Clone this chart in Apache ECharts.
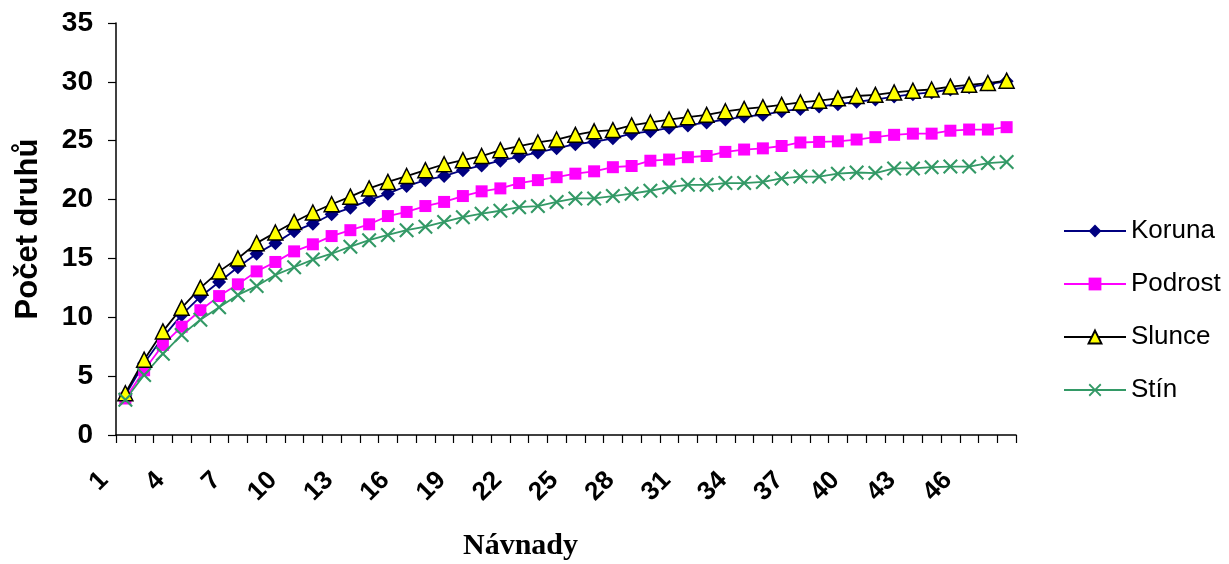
<!DOCTYPE html>
<html>
<head>
<meta charset="utf-8">
<script src="https://cdn.jsdelivr.net/npm/echarts@6/dist/echarts.min.js"></script>
<style>
  html, body { margin: 0; padding: 0; background: #fff; }
  #chart { width: 1229px; height: 564px; }
</style>
</head>
<body>
<div id="chart"></div>
<script>
// Baits 1..48
const categories = Array.from({ length: 48 }, (_, i) => String(i + 1));

const koruna = [3.4, 6.1, 8.3, 10.2, 11.75, 13.0, 14.25, 15.4, 16.3, 17.3, 17.95, 18.75, 19.3, 19.95, 20.5, 21.15,
  21.65, 22.0, 22.5, 22.9, 23.3, 23.65, 24.0, 24.35, 24.7, 24.9, 25.2, 25.6, 25.8, 26.1, 26.3, 26.55,
  26.8, 27.05, 27.2, 27.5, 27.7, 27.9, 28.1, 28.3, 28.5, 28.75, 28.95, 29.1, 29.35, 29.55, 29.8, 30.05];

const podrost = [3.1, 5.5, 7.65, 9.2, 10.6, 11.8, 12.8, 13.9, 14.7, 15.6, 16.2, 16.9, 17.4, 17.9, 18.6, 18.95,
  19.45, 19.8, 20.3, 20.7, 20.95, 21.4, 21.65, 21.9, 22.2, 22.4, 22.75, 22.85, 23.3, 23.4, 23.6, 23.7,
  24.05, 24.25, 24.35, 24.55, 24.85, 24.9, 24.95, 25.1, 25.3, 25.5, 25.6, 25.6, 25.85, 25.95, 25.95, 26.15];

const slunce = [3.55, 6.4, 8.8, 10.8, 12.5, 13.9, 15.0, 16.3, 17.2, 18.1, 18.9, 19.6, 20.25, 20.95, 21.5, 22.0,
  22.5, 23.0, 23.35, 23.7, 24.2, 24.55, 24.85, 25.1, 25.5, 25.8, 25.9, 26.3, 26.55, 26.8, 27.0, 27.2,
  27.5, 27.7, 27.85, 28.05, 28.25, 28.4, 28.6, 28.8, 28.9, 29.1, 29.25, 29.35, 29.6, 29.75, 29.9, 30.1];

const stin = [3.0, 5.1, 6.9, 8.5, 9.8, 10.85, 11.9, 12.65, 13.6, 14.25, 14.9, 15.4, 16.0, 16.55, 17.0, 17.4,
  17.7, 18.1, 18.5, 18.8, 19.05, 19.35, 19.45, 19.8, 20.1, 20.1, 20.3, 20.5, 20.75, 21.05, 21.25, 21.25,
  21.4, 21.4, 21.5, 21.8, 21.95, 21.95, 22.2, 22.3, 22.25, 22.65, 22.65, 22.75, 22.8, 22.8, 23.1, 23.2];

const yTicks = { min: 0, max: 35, interval: 5 };

const crossSymbol = 'path://M2,0L10,8L18,0L20,2L12,10L20,18L18,20L10,12L2,20L0,18L8,10L0,2Z';

const chart = echarts.init(document.getElementById('chart'), null, { renderer: 'canvas' });

const sansBold = { fontFamily: 'Liberation Sans, Arial, sans-serif', fontWeight: 'bold', color: '#000' };

chart.setOption({
  animation: false,
  backgroundColor: '#fff',
  grid: { left: 116, right: 213, top: 23, bottom: 129, containLabel: false },
  legend: {
    orient: 'vertical',
    left: 1058,
    top: 213,
    itemWidth: 62,
    itemHeight: 16,
    itemGap: 27,
    textStyle: { fontFamily: 'Liberation Sans, Arial, sans-serif', fontSize: 26, color: '#000', lineHeight: 26 },
    data: ['Koruna', 'Podrost', 'Slunce', 'Stín']
  },
  graphic: [{
    type: 'text',
    left: 463,
    top: 531,
    style: {
      text: 'Návnady',
      font: 'bold 30px "Liberation Serif", "Times New Roman", serif',
      fill: '#000'
    }
  }],
  xAxis: {
    type: 'category',
    data: categories,
    boundaryGap: true,
    axisLine: { lineStyle: { color: '#000', width: 1.5 } },
    axisTick: { show: true, interval: 0, length: 8, lineStyle: { color: '#000', width: 1.2 } },
    axisLabel: {
      interval: 2,
      rotate: 45,
      margin: 20,
      padding: [0, 30, 0, 0],
      fontSize: 26,
      ...sansBold
    },
    splitLine: { show: false }
  },
  yAxis: {
    type: 'value',
    min: yTicks.min,
    max: yTicks.max,
    interval: yTicks.interval,
    name: 'Počet druhů',
    nameLocation: 'middle',
    nameRotate: 90,
    nameGap: 72,
    nameTextStyle: { fontSize: 31, ...sansBold },
    axisLine: { show: true, lineStyle: { color: '#000', width: 1.5 } },
    axisTick: { show: true, length: 8, lineStyle: { color: '#000', width: 1.2 } },
    axisLabel: { margin: 23, fontSize: 28, ...sansBold },
    splitLine: { show: false }
  },
  series: [
    {
      name: 'Koruna', type: 'line', data: koruna,
      symbol: 'diamond', symbolSize: 14, showAllSymbol: true,
      lineStyle: { color: '#000080', width: 1.8 },
      itemStyle: { color: '#000080' }
    },
    {
      name: 'Podrost', type: 'line', data: podrost,
      symbol: 'rect', symbolSize: 12, showAllSymbol: true,
      lineStyle: { color: '#FF00FF', width: 1.8 },
      itemStyle: { color: '#FF00FF' }
    },
    {
      name: 'Slunce', type: 'line', data: slunce,
      symbol: 'triangle', symbolSize: 15, showAllSymbol: true,
      lineStyle: { color: '#000', width: 1.8 },
      itemStyle: { color: '#FFFF00', borderColor: '#000', borderWidth: 1.5 }
    },
    {
      name: 'Stín', type: 'line', data: stin,
      symbol: crossSymbol, symbolSize: 15, showAllSymbol: true,
      lineStyle: { color: '#339966', width: 1.8 },
      itemStyle: { color: '#339966' }
    }
  ]
});
</script>
</body>
</html>
